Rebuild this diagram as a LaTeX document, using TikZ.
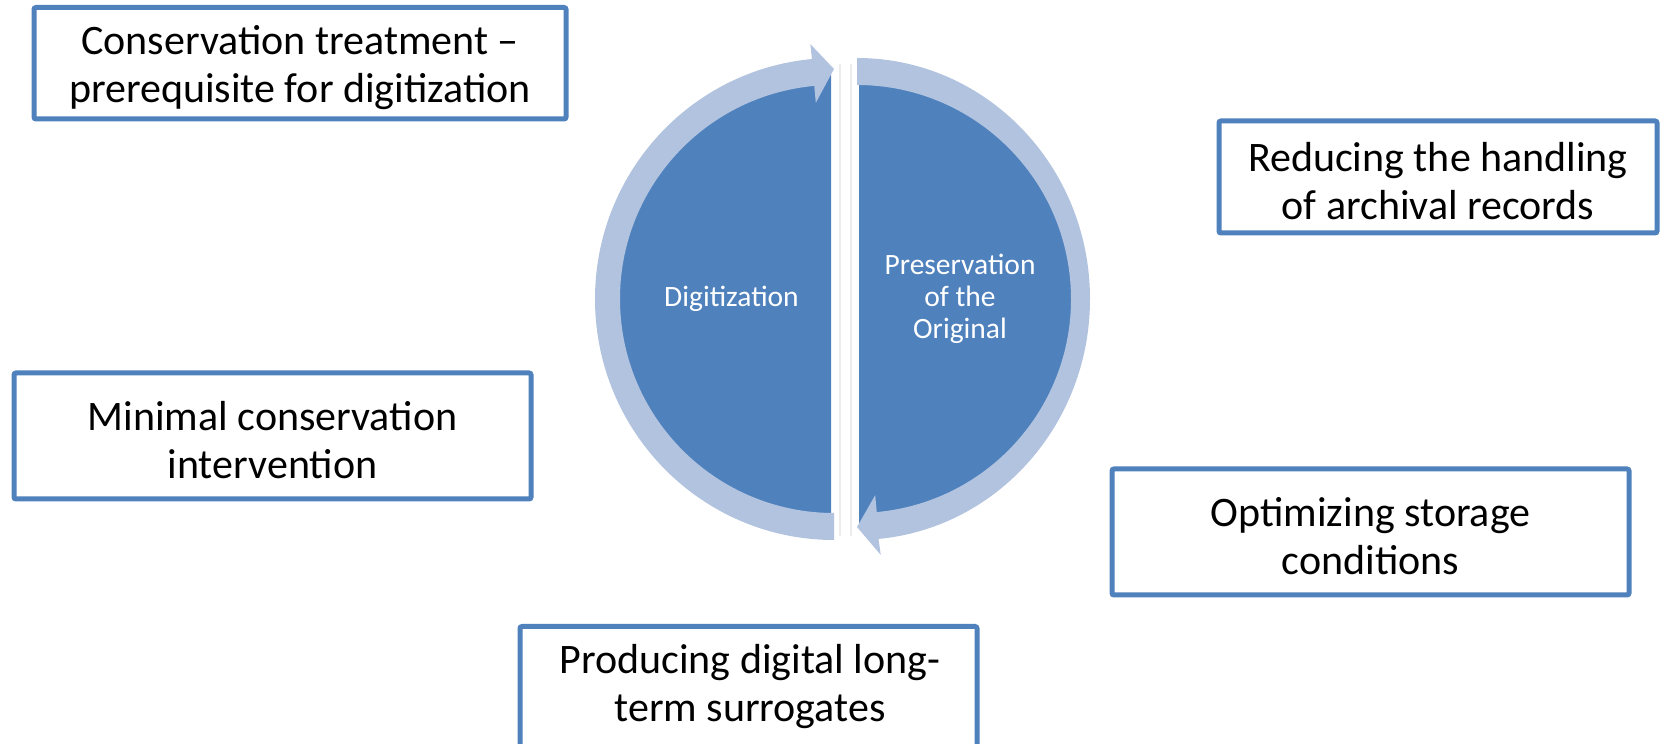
\documentclass[tikz,border=0pt]{standalone}
\usepackage{fontspec}
\setmainfont{Carlito}
\definecolor{boxblue}{HTML}{4F81BD}
\definecolor{darkblue}{HTML}{4F81BD}
\definecolor{ringblue}{HTML}{B1C3DE}
\definecolor{gapshade}{HTML}{ECECEC}
\begin{document}
\begin{tikzpicture}[x=1pt,y=1pt,
  boxframe/.style={draw=boxblue, line width=5pt, rounded corners=2pt, fill=white, inner sep=0pt},
  boxtext/.style={align=center, inner sep=0pt, font=\fontsize{42}{48}\selectfont, text=black},
  ringpart/.style={fill=ringblue},
  halfdisk/.style={fill=darkblue},
  gapline/.style={draw=gapshade, line width=2.5pt},
  inlabel/.style={text=white, align=center, inner sep=0pt, font=\fontsize{29.5}{32}\selectfont}]
\useasboundingbox (0,0) rectangle (1660,744);
\begin{scope}
\clip (0,0) rectangle (1660,744);

% faint shadows in the gap
\coordinate (g1t) at (840,680); \coordinate (g1b) at (840,208);
\coordinate (g2t) at (851,680); \coordinate (g2b) at (851,208);
\draw[gapline] (g1t) -- (g1b);
\draw[gapline] (g2t) -- (g2b);

% dark half disks
\fill[halfdisk] (831,669) arc[start angle=90, end angle=270, x radius=214pt, y radius=224pt] -- cycle;
\fill[halfdisk] (859,669) arc[start angle=90, end angle=-90, x radius=214pt, y radius=224pt] -- cycle;

% left circular arrow (pointing right at top)
\begin{scope}[shift={(834,445)}]
\fill[ringpart] (270:239pt and 241pt) arc[start angle=270, end angle=95.3, x radius=239pt, y radius=241pt]
  -- (95.3:256pt) -- (90:230pt) -- (95.3:197pt) -- (95.3:214pt)
  arc[start angle=95.3, end angle=270, radius=214pt] -- cycle;
\end{scope}

% right circular arrow (pointing left at bottom)
\begin{scope}[shift={(857,445)}]
\fill[ringpart] (90:233pt and 241pt) arc[start angle=90, end angle=-84.7, x radius=233pt, y radius=241pt]
  -- (-84.7:257pt) -- (-90:228pt) -- (-84.7:197pt) -- (-84.7:214pt)
  arc[start angle=-84.7, end angle=90, radius=214pt] -- cycle;
\end{scope}

% labels in circle
\node[inlabel, anchor=base] (dig) at (731.5,437.3) {Digitization};
\node[inlabel] (pres) at (960,445) {Preservation\\of the\\Original};

% boxes
\node[boxframe, minimum width=532pt, minimum height=111.5pt] (b1) at (300,680.75) {};
\node[boxtext] (t1) at ([yshift=-4.5pt]b1.center) {Conservation treatment –\\prerequisite for digitization};
\node[boxframe, minimum width=438pt, minimum height=112pt] (b2) at (1438,567) {};
\node[boxtext] (t2) at ([yshift=-4.5pt]b2.center) {Reducing the handling\\of archival records};
\node[boxframe, minimum width=517pt, minimum height=126pt] (b3) at (272.5,308) {};
\node[boxtext] (t3) at ([yshift=-4.5pt]b3.center) {Minimal conservation\\intervention};
\node[boxframe, minimum width=517pt, minimum height=126pt] (b4) at (1370.5,212) {};
\node[boxtext] (t4) at ([yshift=-4.5pt]b4.center) {Optimizing storage\\conditions};
\node[boxframe, anchor=north, minimum width=457pt, minimum height=170pt] (b5) at (748.5,120) {};
\node[boxtext] (t5) at (750,57) {Producing digital long-\\term surrogates};
\end{scope}
\end{tikzpicture}
\end{document}
